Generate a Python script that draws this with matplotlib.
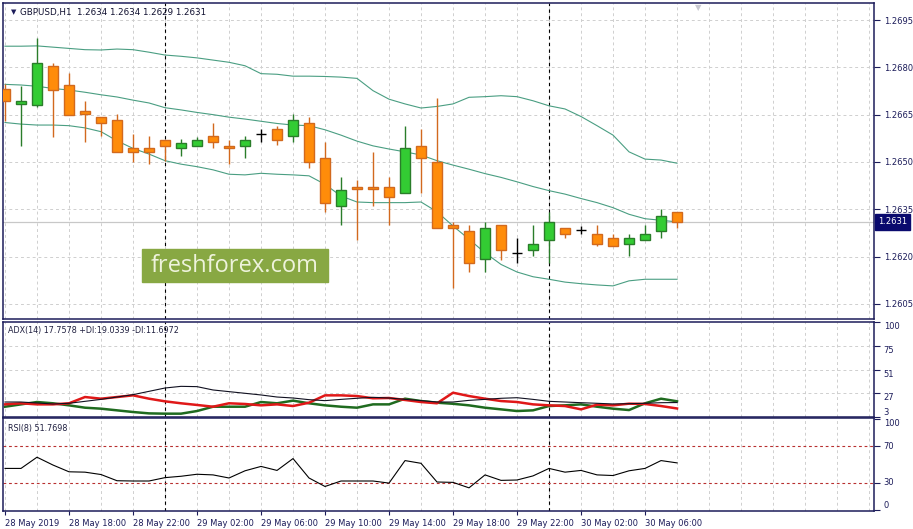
import numpy as np
import matplotlib.pyplot as plt
import matplotlib.transforms as mtransforms
from matplotlib.patches import Rectangle

plt.rcParams['font.family'] = 'DejaVu Sans'

# ---- data (GBPUSD H1, 28 May 14:00 -> 30 May 08:00) ----
opens = [1.26731, 1.26683, 1.26681, 1.26804, 1.26743, 1.26660, 1.26641, 1.26633, 1.26543, 1.26543,
         1.26571, 1.26543, 1.26552, 1.26581, 1.26552, 1.26552, 1.26589, 1.26604, 1.26581, 1.26622,
         1.26511, 1.26361, 1.26422, 1.26422, 1.26422, 1.26403, 1.26552, 1.26501, 1.26301, 1.26282,
         1.26191, 1.26301, 1.26212, 1.26221, 1.26251, 1.26291, 1.26283, 1.26272, 1.26260, 1.26241,
         1.26251, 1.26282, 1.26342]
highs = [1.26747, 1.26742, 1.26893, 1.26814, 1.26782, 1.26694, 1.26641, 1.26652, 1.26590, 1.26583,
         1.26571, 1.26572, 1.26580, 1.26622, 1.26571, 1.26581, 1.26604, 1.26613, 1.26652, 1.26641,
         1.26562, 1.26451, 1.26442, 1.26530, 1.26452, 1.26613, 1.26604, 1.26703, 1.26310, 1.26301,
         1.26310, 1.26301, 1.26260, 1.26301, 1.26342, 1.26291, 1.26297, 1.26301, 1.26272, 1.26272,
         1.26301, 1.26352, 1.26342]
lows = [1.26631, 1.26551, 1.26673, 1.26580, 1.26650, 1.26562, 1.26581, 1.26530, 1.26501, 1.26492,
        1.26504, 1.26519, 1.26552, 1.26543, 1.26492, 1.26511, 1.26562, 1.26553, 1.26562, 1.26482,
        1.26342, 1.26301, 1.26251, 1.26361, 1.26299, 1.26403, 1.26403, 1.26292, 1.26101, 1.26151,
        1.26151, 1.26189, 1.26181, 1.26202, 1.26181, 1.26259, 1.26271, 1.26232, 1.26232, 1.26202,
        1.26251, 1.26259, 1.26291]
closes = [1.26692, 1.26692, 1.26814, 1.26729, 1.26650, 1.26651, 1.26622, 1.26530, 1.26530, 1.26530,
          1.26552, 1.26561, 1.26571, 1.26562, 1.26543, 1.26571, 1.26589, 1.26571, 1.26632, 1.26501,
          1.26371, 1.26411, 1.26413, 1.26413, 1.26390, 1.26543, 1.26511, 1.26292, 1.26292, 1.26181,
          1.26292, 1.26221, 1.26212, 1.26241, 1.26311, 1.26272, 1.26283, 1.26241, 1.26232, 1.26260,
          1.26272, 1.26330, 1.26310]

bb_upper = [1.26867, 1.26867, 1.26868, 1.26864, 1.26860, 1.26856, 1.26855, 1.26858, 1.26856, 1.26848,
            1.26839, 1.26835, 1.26830, 1.26823, 1.26816, 1.26805, 1.26780, 1.26778, 1.26772, 1.26772,
            1.26771, 1.26769, 1.26765, 1.26726, 1.26699, 1.26684, 1.26671, 1.26676, 1.26684, 1.26705,
            1.26707, 1.26710, 1.26707, 1.26694, 1.26678, 1.26668, 1.26644, 1.26615, 1.26585, 1.26532,
            1.26509, 1.26506, 1.26496]
bb_middle = [1.26746, 1.26744, 1.26740, 1.26733, 1.26728, 1.26721, 1.26713, 1.26706, 1.26696, 1.26687,
             1.26672, 1.26665, 1.26657, 1.26650, 1.26642, 1.26636, 1.26629, 1.26622, 1.26617, 1.26615,
             1.26602, 1.26585, 1.26566, 1.26551, 1.26541, 1.26532, 1.26522, 1.26504, 1.26490, 1.26477,
             1.26463, 1.26451, 1.26437, 1.26422, 1.26409, 1.26398, 1.26384, 1.26371, 1.26355, 1.26334,
             1.26320, 1.26315, 1.26310]
bb_lower = [1.26625, 1.26620, 1.26617, 1.26617, 1.26615, 1.26608, 1.26596, 1.26567, 1.26543, 1.26525,
            1.26504, 1.26493, 1.26485, 1.26475, 1.26461, 1.26459, 1.26464, 1.26461, 1.26459, 1.26456,
            1.26429, 1.26392, 1.26373, 1.26371, 1.26371, 1.26371, 1.26373, 1.26342, 1.26297, 1.26255,
            1.26212, 1.26175, 1.26151, 1.26136, 1.26128, 1.26119, 1.26114, 1.26110, 1.26107, 1.26123,
            1.26128, 1.26128, 1.26128]

adx = [18.3, 18.3, 17.3, 16.3, 17.0, 19.0, 21.0, 23.4, 25.8, 29.2,
       32.6, 34.3, 34.0, 30.6, 28.9, 27.2, 25.5, 23.4, 22.4, 20.7,
       19.7, 21.0, 22.1, 23.1, 22.4, 21.0, 19.7, 18.3, 18.3, 20.0,
       21.0, 22.1, 22.7, 21.0, 19.0, 18.3, 17.6, 17.0, 16.3, 16.6,
       17.0, 17.6, 17.7578]
plus_di = [13.5, 15.9, 18.3, 17.0, 14.9, 12.5, 11.5, 9.8, 8.1, 6.7,
           6.4, 6.4, 9.1, 13.5, 13.5, 13.5, 18.3, 17.0, 19.7, 17.0,
           14.9, 13.5, 12.5, 15.9, 15.9, 21.7, 19.3, 17.6, 16.5, 14.9,
           12.5, 10.8, 9.1, 9.8, 14.2, 14.9, 15.9, 13.5, 11.5, 10.1,
           17.0, 21.7, 19.0339]
minus_di = [15.9, 17.0, 15.9, 15.9, 17.0, 23.4, 21.7, 23.4, 25.1, 21.7,
            19.0, 17.0, 15.3, 13.5, 17.0, 16.3, 14.9, 15.9, 14.2, 17.6,
            25.1, 25.1, 24.4, 22.1, 22.4, 20.4, 18.3, 17.0, 27.8, 24.4,
            21.7, 19.3, 18.3, 15.9, 14.9, 14.2, 10.8, 15.6, 14.9, 16.6,
            16.3, 14.2, 11.6972]
rsi = [45.7, 45.7, 58.0, 49.4, 42.0, 41.6, 39.0, 32.2, 31.9, 31.9,
       35.6, 37.1, 39.3, 38.6, 35.2, 43.1, 47.9, 43.5, 56.5, 35.2,
       25.9, 31.9, 31.9, 31.9, 29.6, 54.3, 51.3, 30.8, 30.4, 24.4,
       38.6, 32.6, 33.0, 37.5, 45.7, 41.6, 43.5, 38.6, 37.9, 43.1,
       45.7, 54.3, 51.7698]

time_ticks = [0, 4, 8, 12, 16, 20, 24, 28, 32, 36, 40]
time_labels = ['28 May 2019', '28 May 18:00', '28 May 22:00', '29 May 02:00', '29 May 06:00',
               '29 May 10:00', '29 May 14:00', '29 May 18:00', '29 May 22:00', '30 May 02:00',
               '30 May 06:00']
day_breaks = [10, 34]
price_ticks = [1.2605, 1.2620, 1.2635, 1.2650, 1.2665, 1.2680, 1.2695]
adx_ticks = [3, 27, 51, 75, 100]
rsi_ticks = [0, 30, 70, 100]

# ---- styling ----
NAVY = '#1c1c5a'
GRID = '#cfcfcf'
UP_FILL, UP_EDGE = '#33cc33', '#2a7d2a'
DN_FILL, DN_EDGE = '#ff8c0a', '#d2691e'
BAND = '#4a9e82'

W, H = 913, 529
fig = plt.figure(figsize=(W / 100, H / 100), dpi=100)
fig.patch.set_facecolor('white')


def box(top, bottom, left=3, right=874):
    return [left / W, 1 - bottom / H, (right - left) / W, (bottom - top) / H]


ax = fig.add_axes(box(3, 319))
ax_adx = fig.add_axes(box(322, 417))
ax_rsi = fig.add_axes(box(418, 511))

for a in (ax, ax_adx, ax_rsi):
    a.set_xlim(-0.125, 54.31)
    a.set_facecolor('white')
    for s in a.spines.values():
        s.set_color(NAVY)
        s.set_linewidth(1.1)
    for gx in np.arange(0, 56, 2):
        a.axvline(gx, color=GRID, lw=0.7, ls=(0, (3, 3)), zorder=0)
    for d in day_breaks:
        a.axvline(d, color='black', lw=0.8, ls=(0, (3, 3)), zorder=1)
    a.yaxis.tick_right()
    a.tick_params(axis='y', which='both', direction='out', length=4, width=0.8,
                  color=NAVY, labelcolor=NAVY, labelsize=6, pad=3)
    a.tick_params(axis='x', bottom=False, labelbottom=False)

# ---- main price panel ----
o, h, l, c = map(np.array, (opens, highs, lows, closes))
x = np.arange(len(o))
up = c > o
dn = c < o
dj = c == o

ax.set_ylim(1.26002, 1.27004)
ax.set_yticks(price_ticks)
ax.set_yticklabels([f'{p:.4f}' for p in price_ticks])
for p in price_ticks:
    ax.axhline(p, color=GRID, lw=0.7, ls=(0, (3, 3)), zorder=0)
ax.axhline(c[-1], color='#c8c8c8', lw=0.9, zorder=1)

for band in (bb_upper, bb_middle, bb_lower):
    ax.plot(x, band, color=BAND, lw=0.8, zorder=2)

bw = 0.64
ax.vlines(x[up], l[up], h[up], color=UP_EDGE, lw=1.0, zorder=3)
ax.vlines(x[dn], l[dn], h[dn], color=DN_EDGE, lw=1.0, zorder=3)
ax.vlines(x[dj], l[dj], h[dj], color='black', lw=1.0, zorder=3)
ax.bar(x[up], c[up] - o[up], bottom=o[up], width=bw, color=UP_FILL,
       edgecolor=UP_EDGE, lw=1.0, zorder=4)
ax.bar(x[dn], o[dn] - c[dn], bottom=c[dn], width=bw, color=DN_FILL,
       edgecolor=DN_EDGE, lw=1.0, zorder=4)
ax.hlines(c[dj], x[dj] - bw / 2, x[dj] + bw / 2, color='black', lw=1.0, zorder=4)

# last price tag on the scale
trans = mtransforms.blended_transform_factory(ax.transAxes, ax.transData)
ax.text(1.0 + 4 / 871, c[-1], f'{c[-1]:.4f}', transform=trans, ha='left', va='center',
        color='white', fontsize=6, zorder=10, clip_on=False,
        bbox=dict(boxstyle='square,pad=0.4', fc='#0a0a6e', ec='#0a0a6e'))

ax.text(8 / 871, 1 - 9 / 316, '\u25bc', transform=ax.transAxes, ha='left', va='center',
        fontsize=5, color=NAVY)
ax.text(17 / 871, 1 - 9 / 316,
        f'GBPUSD,H1  {o[-1]:.4f} {h[-1]:.4f} {l[-1]:.4f} {c[-1]:.4f}',
        transform=ax.transAxes, ha='left', va='center', fontsize=6.3, color='#101030')
# chart shift marker
ax.text(43.3, 1.0, '\u25bc', transform=mtransforms.blended_transform_factory(ax.transData, ax.transAxes),
        ha='center', va='top', fontsize=6, color='#c8c8d0')

# ---- ADX panel ----
ax_adx.set_ylim(3, 100)
ax_adx.set_yticks(adx_ticks)
ax_adx.set_yticklabels([str(t) for t in adx_ticks])
for t, lab in zip(adx_ticks, ax_adx.get_yticklabels()):
    lab.set_va('bottom' if t == 3 else 'top')
for g in (27, 51, 75):
    ax_adx.axhline(g, color=GRID, lw=0.7, ls=(0, (3, 3)), zorder=0)
ax_adx.plot(x, adx, color='#101020', lw=0.8, zorder=3)
ax_adx.plot(x, plus_di, color='#1f6b1f', lw=1.8, zorder=2)
ax_adx.plot(x, minus_di, color='#e01818', lw=1.8, zorder=2)
ax_adx.text(5 / 871, 1 - 9 / 95,
            f'ADX(14) {adx[-1]:.4f} +DI:{plus_di[-1]:.4f} -DI:{minus_di[-1]:.4f}',
            transform=ax_adx.transAxes, ha='left', va='center', fontsize=5.8, color='#202040')

# ---- RSI panel ----
ax_rsi.set_ylim(-1, 101)
ax_rsi.set_yticks(rsi_ticks)
ax_rsi.set_yticklabels([str(t) for t in rsi_ticks])
for t, lab in zip(rsi_ticks, ax_rsi.get_yticklabels()):
    lab.set_va({0: 'bottom', 100: 'top'}.get(t, 'center'))
for lvl in (30, 70):
    ax_rsi.axhline(lvl, color='#b83030', lw=0.8, ls=(0, (2.5, 2.5)), zorder=1)
ax_rsi.plot(x, rsi, color='black', lw=0.8, zorder=3)
ax_rsi.text(5 / 871, 1 - 11 / 93, f'RSI(8) {rsi[-1]:.4f}',
            transform=ax_rsi.transAxes, ha='left', va='center', fontsize=5.8, color='#202040')
ax_rsi.set_xticks(time_ticks)
ax_rsi.set_xticklabels(time_labels, ha='left')
ax_rsi.tick_params(axis='x', bottom=True, labelbottom=True, direction='out', length=3,
                   width=0.8, color=NAVY, labelcolor=NAVY, labelsize=6, pad=3)

# ---- watermark ----
fig.add_artist(Rectangle((142 / W, 1 - 282 / H), 186 / W, 33 / H, transform=fig.transFigure,
                         color='#88a843', zorder=5))
fig.text(235 / W, 1 - 266 / H, 'freshforex.com', ha='center', va='center', fontsize=17,
         family='Open Sans', color='#eef3dc', zorder=6)

fig.savefig('out.png', dpi=100)
